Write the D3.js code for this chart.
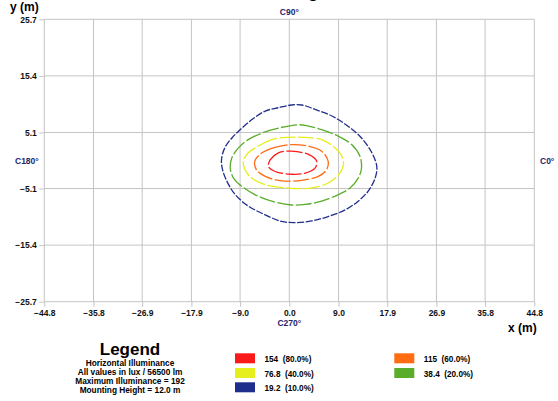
<!DOCTYPE html>
<html>
<head>
<meta charset="utf-8">
<script src="https://cdn.jsdelivr.net/npm/d3@7/dist/d3.min.js"></script>
<style>
  html, body { margin: 0; padding: 0; background: #fff; }
  svg { display: block; font-family: "Liberation Sans", Arial, sans-serif; }
</style>
</head>
<body>
<svg id="chart" width="558" height="401"></svg>
<script>
// ---------- data ----------
const xTicks = [-44.8, -35.8, -26.9, -17.9, -9.0, 0.0, 9.0, 17.9, 26.9, 35.8, 44.8];
const yTicks = [-25.7, -15.4, -5.1, 5.1, 15.4, 25.7];
const xDomain = [-44.8, 44.8];
const yDomain = [-25.7, 25.7];

const levelValues = ["154", "115", "76.8", "38.4", "19.2"];
const levelPercents = ["80.0%", "60.0%", "40.0%", "20.0%", "10.0%"];
const levelColors = ["#fb1a1a", "#ff6c12", "#e6ee1c", "#5aad2a", "#1f2e8c"];

// contour outlines in metres (x, y)
const contour154 = [[0.4,1.7],[-2.0,1.4],[-3.5,0.1],[-3.8,-1.1],[-2.6,-2.0],[0.4,-2.5],[2.9,-2.3],[4.7,-1.4],[5.0,-0.1],[3.5,1.1]];
const contour115 = [[0.4,2.9],[-2.6,2.4],[-5.0,1.4],[-6.3,-0.1],[-6.0,-1.7],[-4.4,-2.9],[-1.4,-3.7],[2.3,-3.6],[5.3,-2.9],[6.8,-1.7],[7.1,-0.1],[5.9,1.7],[3.5,2.6]];
const contour76 = [[-0.5,4.2],[-3.2,3.8],[-5.7,2.6],[-7.5,1.4],[-8.4,-0.1],[-8.1,-1.7],[-6.9,-3.2],[-4.4,-4.4],[-0.5,-5.0],[1.0,-5.1],[4.1,-5.0],[7.1,-4.1],[9.0,-2.6],[9.9,-0.8],[9.6,0.8],[8.0,2.6],[5.9,3.8],[2.9,4.2]];
const contour38 = [[1.6,6.5],[-2.0,5.9],[-5.0,5.0],[-7.5,3.8],[-9.3,2.3],[-10.5,0.5],[-10.8,-1.4],[-10.2,-3.2],[-8.7,-4.7],[-6.3,-6.2],[-3.2,-7.4],[0.4,-8.1],[2.9,-8.0],[5.9,-7.4],[9.0,-6.2],[11.1,-5.0],[12.6,-3.2],[13.2,-1.4],[12.9,0.8],[11.4,2.9],[9.0,4.4],[5.9,5.6],[2.9,6.4]];
const contour19 = [[0.4,10.1],[-2.0,9.6],[-4.4,9.0],[-6.9,7.4],[-9.0,5.6],[-10.5,4.1],[-11.8,2.3],[-12.4,0.1],[-12.2,-1.7],[-11.4,-3.8],[-9.9,-6.2],[-7.5,-8.3],[-4.4,-9.9],[-1.4,-11.1],[1.0,-11.3],[4.1,-11.0],[7.1,-10.2],[10.2,-9.0],[12.6,-7.4],[14.4,-5.6],[15.7,-3.2],[16.0,-1.1],[15.1,1.4],[13.2,4.1],[10.8,6.2],[7.8,8.1],[4.7,9.3],[2.3,10.1]];

const legendLines = ["Horizontal Illuminance", "All values in lux / 56500 lm", "Maximum Illuminance = 192", "Mounting Height = 12.0 m"];

// ---------- drawing ----------
const svg = d3.select("#chart");
const pLeft = 44.3, pRight = 534.3, pTop = 19.3, pBottom = 301.7;
const x = d3.scaleLinear().domain(xDomain).range([pLeft, pRight]);
const y = d3.scaleLinear().domain(yDomain).range([pBottom, pTop]);
const gridColor = "#c4c4c4";
const navy = "#24246c";

// title (mostly cut off at top)
svg.append("text").attr("x", 287).attr("y", -3).attr("text-anchor", "middle")
  .attr("font-size", 18).attr("font-weight", "bold").attr("fill", "#000").text("Isolux Diagram");

// grid
const grid = svg.append("g");
grid.selectAll("line.v").data(xTicks).join("line").attr("class", "v")
  .attr("x1", d => x(d)).attr("x2", d => x(d)).attr("y1", pTop).attr("y2", pBottom)
  .attr("stroke", gridColor).attr("stroke-width", 1);
grid.selectAll("line.h").data(yTicks).join("line").attr("class", "h")
  .attr("y1", d => y(d)).attr("y2", d => y(d)).attr("x1", pLeft).attr("x2", pRight)
  .attr("stroke", gridColor).attr("stroke-width", 1);

// axes
const fmt = d3.format(".1f");
const xAxis = svg.append("g").attr("transform", `translate(0,${pBottom})`)
  .call(d3.axisBottom(x).tickValues(xTicks).tickFormat(fmt).tickSize(5).tickPadding(3.5));
const yAxis = svg.append("g").attr("transform", `translate(${pLeft},0)`)
  .call(d3.axisLeft(y).tickValues(yTicks).tickFormat(fmt).tickSize(5).tickPadding(2.5));
[xAxis, yAxis].forEach(a => {
  a.select(".domain").remove();
  a.selectAll(".tick line").attr("stroke", gridColor);
  a.selectAll(".tick text").attr("font-size", 8.5).attr("font-weight", "bold")
    .attr("fill", "#111").attr("font-family", "Liberation Sans, Arial, sans-serif");
});

// contours
const line = d3.line().x(d => x(d[0])).y(d => y(d[1])).curve(d3.curveCatmullRomClosed.alpha(0.5));
const contours = [contour154, contour115, contour76, contour38, contour19];
svg.append("g").selectAll("path").data(contours).join("path")
  .attr("d", d => line(d))
  .attr("fill", "none")
  .attr("stroke", (d, i) => levelColors[i])
  .attr("stroke-width", 1.3)
  .attr("stroke-dasharray", (d, i) => i === 4 ? "7,1.6" : "16,2.5");

// direction labels
const cLabels = svg.append("g").attr("font-size", 8.5).attr("font-weight", "bold").attr("fill", navy);
cLabels.append("text").attr("x", x(0)).attr("y", 15).attr("text-anchor", "middle").text("C90°");
cLabels.append("text").attr("x", x(0)).attr("y", 325.5).attr("text-anchor", "middle").text("C270°");
cLabels.append("text").attr("x", 15).attr("y", 164).text("C180°");
cLabels.append("text").attr("x", 540).attr("y", 164).text("C0°");

// axis titles
svg.append("text").attr("x", 10).attr("y", 10.5).attr("font-size", 12).attr("font-weight", "bold").text("y (m)");
svg.append("text").attr("x", 508).attr("y", 332).attr("font-size", 12).attr("font-weight", "bold").text("x (m)");

// legend block
svg.append("text").attr("x", 130).attr("y", 355).attr("text-anchor", "middle")
  .attr("font-size", 17).attr("font-weight", "bold").text("Legend");
svg.append("g").selectAll("text").data(legendLines).join("text")
  .attr("x", 130).attr("y", (d, i) => 365.5 + i * 9.2).attr("text-anchor", "middle")
  .attr("font-size", 8.3).attr("font-weight", "bold").text(d => d);

// legend items: order red, orange / yellow, green / blue
const legendPos = [[235, 353.3], [394.3, 353.3], [235, 368], [394.3, 368], [235, 382.3]];
const items = svg.append("g").selectAll("g").data(levelValues).join("g")
  .attr("transform", (d, i) => `translate(${legendPos[i][0]},${legendPos[i][1]})`);
items.append("rect").attr("width", 20).attr("height", 10).attr("fill", (d, i) => levelColors[i]);
items.append("text").attr("x", 29.5).attr("y", 8.5).attr("font-size", 8.2).attr("font-weight", "bold")
  .style("white-space", "pre")
  .text((d, i) => `${d}  (${levelPercents[i]})`);
</script>
</body>
</html>
